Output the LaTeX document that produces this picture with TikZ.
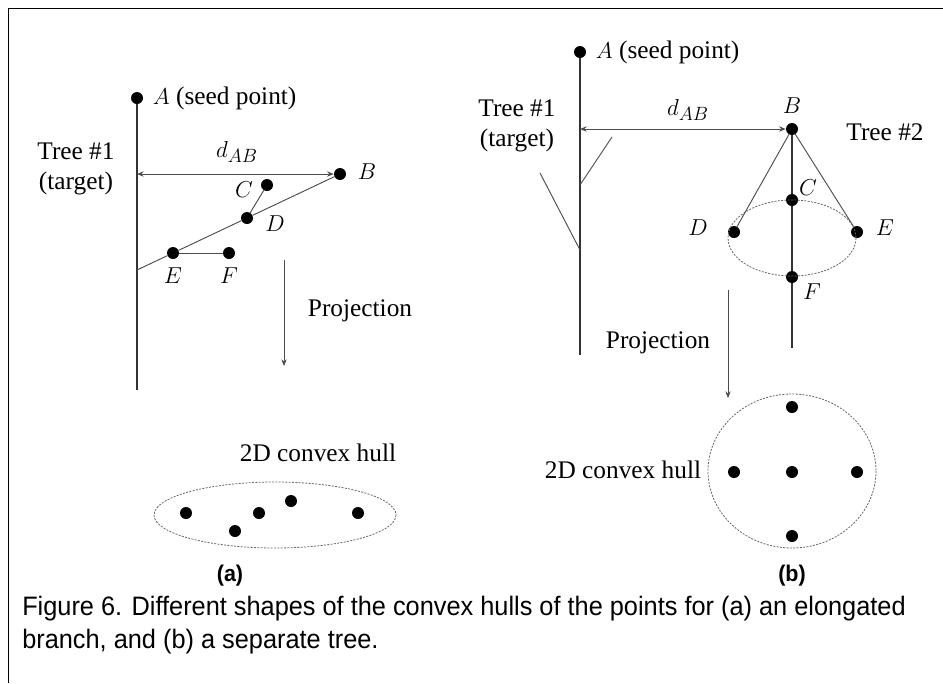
\documentclass[tikz,border=0pt]{standalone}
\usepackage{fontspec}
\setmainfont{Liberation Serif}
\newfontfamily\capfont[FakeStretch=0.95]{Liberation Sans}
\usetikzlibrary{arrows.meta, positioning}

\begin{document}
\begin{tikzpicture}[x=0.75pt, y=-0.75pt, >={Stealth[length=5pt, width=4pt]},
  dot/.style={circle, fill=black, inner sep=0pt, minimum size=9pt},
  lbl/.style={inner sep=1pt, font=\fontsize{19}{22}\selectfont},
  stem/.style={draw=black!80, line width=1pt},
  twig/.style={draw=black!70, line width=0.7pt},
  hull/.style={draw=black!60, line width=0.6pt, dash pattern=on 1.5pt off 1pt},
  sublbl/.style={font=\capfont\bfseries\fontsize{17}{19}\selectfont}]
  \useasboundingbox (0,0) rectangle (943,683);
  % frame, top and left edge only
  \draw[line width=1.2pt] (8.5,683) -- (8.5,8.5) -- (943,8.5);

  % ---- (a) elongated branch ----
  \node[dot] (Aa) at (137,98) {};
  \node[lbl, right=6pt of Aa] (Aalbl) {$A$ (seed point)};
  \coordinate (Ta) at (137,390);
  \coordinate (Ha) at (137,174);
  \coordinate (Ja) at (137,270);
  \node[lbl, align=center] (treea) at (76,169) {Tree \#1\\(target)};
  \node[dot] (Ba) at (340,174) {};
  \node[dot] (Ca) at (267,185) {};
  \node[dot] (Da) at (247,218) {};
  \node[dot] (Ea) at (173,253) {};
  \node[dot] (Fa) at (229,253) {};
  \draw[stem] (Aa) -- (Ta);
  \draw[twig] (Ba) -- (Da) -- (Ea) -- (Ja);
  \draw[twig] (Ca) -- (Da);
  \draw[twig] (Ea) -- (Fa);
  \draw[twig, <->] (Ha) -- (Ba);
  \node[lbl] (dABa) at (237,152) {$d_{AB}$};
  \node[lbl] (Balbl) at (367,172) {$B$};
  \node[lbl] (Calbl) at (244,190) {$C$};
  \node[lbl] (Dalbl) at (275,224) {$D$};
  \node[lbl, below=5pt of Ea] (Ealbl) {$E$};
  \node[lbl, below=5pt of Fa] (Falbl) {$F$};

  \coordinate (Pa1) at (284,260);
  \coordinate (Pa2) at (284,366);
  \draw[twig, ->] (Pa1) -- (Pa2);
  \node[lbl] (proja) at (360,311) {Projection};

  \node[lbl] (hulla) at (318,453) {2D convex hull};
  \draw[hull] (275,515) ellipse [x radius=121, y radius=33];
  \foreach \x/\y [count=\i] in {186/513, 235/531, 259/513, 291/501, 358/513}
    \node[dot] (qa\i) at (\x,\y) {};
  \node[sublbl] (capa) at (230,576) {(a)};

  % ---- (b) separate tree ----
  \node[dot] (Ab) at (580,52) {};
  \node[lbl, right=6pt of Ab] (Ablbl) {$A$ (seed point)};
  \coordinate (Tb1) at (580,355);
  \coordinate (Hb) at (580,129);
  \coordinate (Kb1) at (580,185);
  \coordinate (Kb2) at (612,137);
  \coordinate (Lb1) at (580,250);
  \coordinate (Lb2) at (540,173);
  \node[lbl, align=center] (treeb1) at (517,126) {Tree \#1\\(target)};
  \draw[stem] (Ab) -- (Tb1);
  \draw[twig] (Kb1) -- (Kb2);
  \draw[twig] (Lb1) -- (Lb2);

  \node[dot] (Bb) at (792,129) {};
  \node[dot] (Cb) at (792,200) {};
  \node[dot] (Db) at (734,232) {};
  \node[dot] (Eb) at (857,232) {};
  \node[dot] (Fb) at (792,277) {};
  \coordinate (Tb2) at (792,348);
  \draw[stem] (Bb) -- (Cb) -- (Fb) -- (Tb2);
  \draw[twig] (Bb) -- (Db);
  \draw[twig] (Bb) -- (Eb);
  \draw[hull] (792,238) ellipse [x radius=64, y radius=38];
  \draw[twig, <->] (Hb) -- (Bb);
  \node[lbl] (dABb) at (688,110) {$d_{AB}$};
  \node[lbl, above=6pt of Bb] (Bblbl) {$B$};
  \node[lbl] (treeb2) at (885,132) {Tree \#2};
  \node[lbl] (Cblbl) at (808,188) {$C$};
  \node[lbl] (Dblbl) at (698,228) {$D$};
  \node[lbl] (Eblbl) at (885,228) {$E$};
  \node[lbl] (Fblbl) at (812,292) {$F$};

  \coordinate (Pb1) at (728,290);
  \coordinate (Pb2) at (728,398);
  \draw[twig, ->] (Pb1) -- (Pb2);
  \node[lbl] (projb) at (658,343) {Projection};

  \node[lbl] (hullb) at (623,470) {2D convex hull};
  \draw[hull] (792,471) ellipse [x radius=84, y radius=77];
  \foreach \x/\y [count=\i] in {792/407, 734/472, 792/472, 857/472, 792/536}
    \node[dot] (qb\i) at (\x,\y) {};
  \node[sublbl] (capb) at (792,576) {(b)};

  % caption
  \node[anchor=north west, align=left, inner sep=0pt,
        font=\capfont\fontsize{20}{25}\selectfont] (caption) at (22,596)
    {Figure 6. Different shapes of the convex hulls of the points for (a) an elongated\\
     branch, and (b) a separate tree.};
\end{tikzpicture}
\end{document}
